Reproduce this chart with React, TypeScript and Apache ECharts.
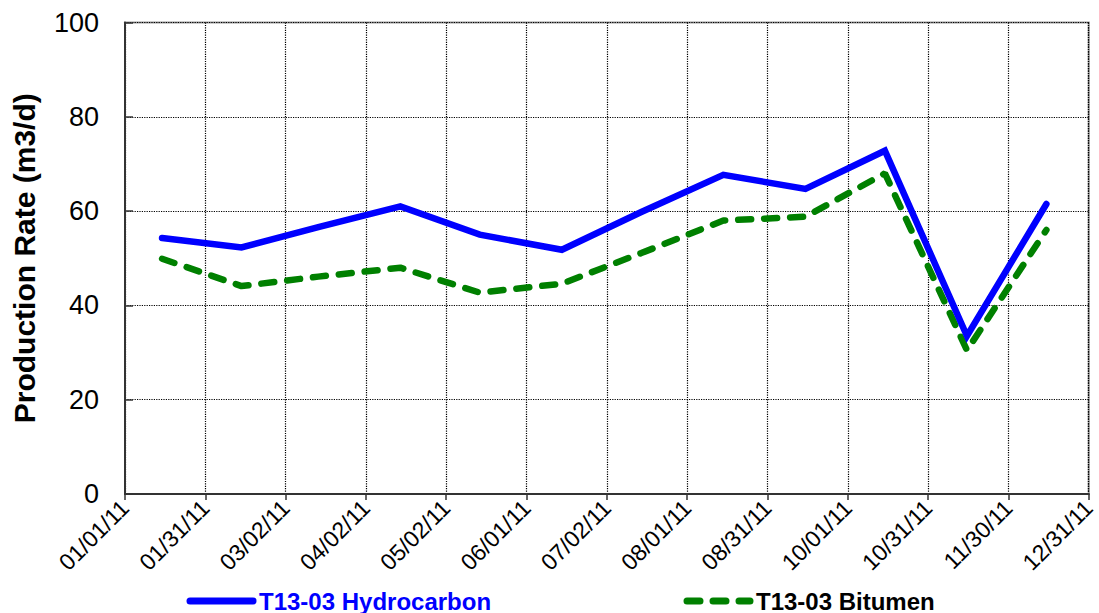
import React, { useEffect, useRef } from "react";
import * as echarts from "echarts";

const sampleDates = [
  "2011-01-15", "2011-02-14", "2011-03-15", "2011-04-15", "2011-05-15", "2011-06-15",
  "2011-07-15", "2011-08-15", "2011-09-15", "2011-10-15", "2011-11-15", "2011-12-15",
];
const hydrocarbon = [54.3, 52.3, 56.6, 61.0, 55.0, 51.8, 59.8, 67.7, 64.7, 72.8, 33.5, 61.5];
const bitumen = [49.9, 44.1, 46.1, 48.0, 42.7, 44.6, 51.1, 58.0, 58.8, 68.0, 30.5, 56.0];
const xTickLabels = [
  "01/01/11", "01/31/11", "03/02/11", "04/02/11", "05/02/11", "06/01/11", "07/02/11",
  "08/01/11", "08/31/11", "10/01/11", "10/31/11", "11/30/11", "12/31/11",
];
const seriesNames = ["T13-03 Hydrocarbon", "T13-03 Bitumen"];
const yAxisTitle = "Production Rate (m3/d)";

const START = Date.UTC(2011, 0, 1);
const SPAN_DAYS = 364;
const TICK_STEP = SPAN_DAYS / 12;
const dayOf = (s: string) => {
  const [y, m, d] = s.split("-").map(Number);
  return (Date.UTC(y, m - 1, d) - START) / 86400000;
};

const FONT = "'Liberation Sans', Arial, Helvetica, sans-serif";

export default function App() {
  const ref = useRef<HTMLDivElement>(null);
  useEffect(() => {
    if (!ref.current) return;
    const chart = echarts.init(ref.current, undefined, { renderer: "svg" });
    const hc = sampleDates.map((d, i) => [dayOf(d), hydrocarbon[i]]);
    const bt = sampleDates.map((d, i) => [dayOf(d), bitumen[i]]);
    const legendCommon = {
      itemWidth: 63,
      itemHeight: 14,
      padding: 0,
      lineStyle: { width: 7, cap: "round" },
      itemStyle: { opacity: 0, color: "transparent", borderWidth: 0 },
      textStyle: { fontFamily: FONT, fontSize: 24, fontWeight: "bold", padding: [0, 0, 0, 1] },
    };
    const gridLine = { show: true, lineStyle: { type: "dotted", color: "#000", width: 1.2 } };
    chart.setOption({
      animation: false,
      backgroundColor: "#fff",
      textStyle: { fontFamily: FONT },
      grid: {
        left: 125,
        top: 22.5,
        right: 8.5,
        bottom: 119,
        show: true,
        borderColor: "#9a9a9a",
        borderWidth: 2,
        backgroundColor: "transparent",
      },
      legend: [
        {
          ...legendCommon,
          data: [{ name: seriesNames[0], textStyle: { color: "#0000ff" } }],
          left: 186.5,
          top: 589,
        },
        {
          ...legendCommon,
          data: [{ name: seriesNames[1], textStyle: { color: "#000" } }],
          left: 683.5,
          top: 589,
        },
      ],
      xAxis: {
        type: "value",
        min: 0,
        max: SPAN_DAYS,
        interval: TICK_STEP,
        axisLine: { show: true, onZero: false, lineStyle: { color: "#333", width: 2 } },
        axisTick: { show: true, length: 6, lineStyle: { color: "#333", width: 1.5 } },
        axisLabel: {
          rotate: 45,
          margin: 10,
          fontSize: 23,
          color: "#000",
          fontFamily: FONT,
          formatter: (v: number) => xTickLabels[Math.round(v / TICK_STEP)] ?? "",
        },
        splitLine: gridLine,
      },
      yAxis: {
        type: "value",
        min: 0,
        max: 100,
        interval: 20,
        name: yAxisTitle,
        nameLocation: "middle",
        nameRotate: 90,
        nameGap: 86,
        nameTextStyle: { fontFamily: FONT, fontSize: 30, fontWeight: "bold", color: "#000" },
        axisLine: { show: true, lineStyle: { color: "#333", width: 2 } },
        axisTick: { show: true, inside: true, length: 8, lineStyle: { color: "#333", width: 1.5 } },
        axisLabel: { fontSize: 27, color: "#000", margin: 26, fontFamily: FONT },
        splitLine: gridLine,
      },
      series: [
        {
          name: seriesNames[0],
          type: "line",
          data: hc,
          showSymbol: false,
          symbol: "none",
          color: "#0000ff",
          lineStyle: { color: "#0000ff", width: 6.5, join: "miter", cap: "round" },
          z: 3,
        },
        {
          name: seriesNames[1],
          type: "line",
          data: bt,
          showSymbol: false,
          symbol: "none",
          color: "#008000",
          lineStyle: { color: "#008000", width: 6.5, type: [13, 13], cap: "round" },
          z: 2,
        },
      ],
    });
    return () => chart.dispose();
  }, []);
  return (
    <div
      ref={ref}
      style={{ position: "fixed", left: 0, top: 0, width: 1099, height: 613, background: "#fff" }}
    />
  );
}
